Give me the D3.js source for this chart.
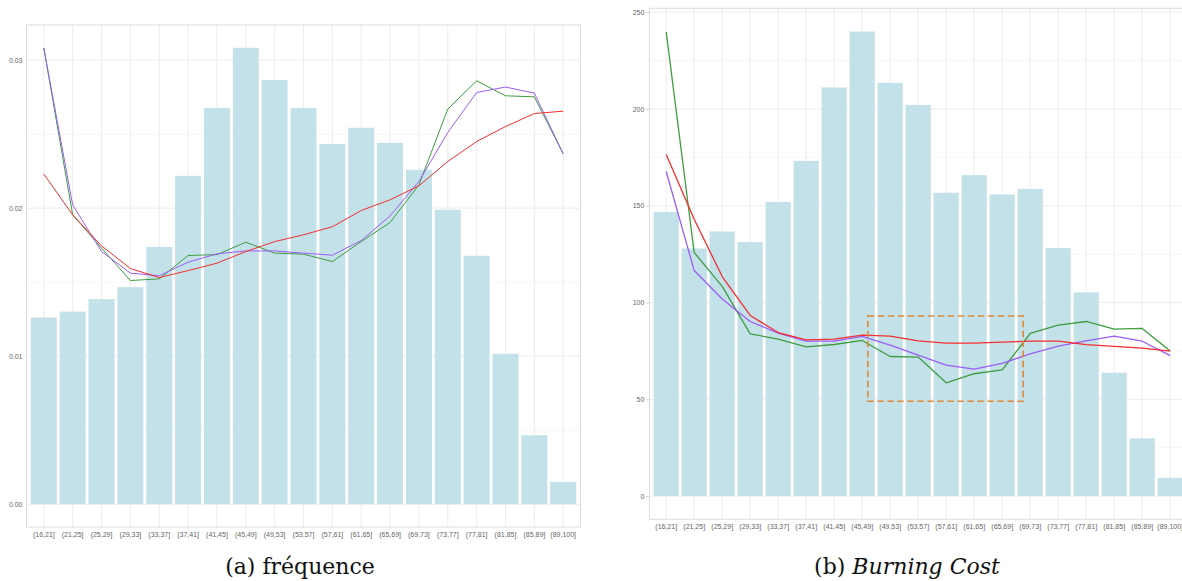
<!DOCTYPE html>
<html>
<head>
<meta charset="utf-8">
<script src="https://cdn.jsdelivr.net/npm/d3@7"></script>
<style>
  html, body { margin: 0; padding: 0; background: #fff; }
  svg { display: block; }
</style>
</head>
<body>
<svg id="fig" width="1182" height="581"></svg>
<script>
// Age bands shared by both panels
const ageBands = ["(16,21]","(21,25]","(25,29]","(29,33]","(33,37]","(37,41]","(41,45]","(45,49]","(49,53]","(53,57]","(57,61]","(61,65]","(65,69]","(69,73]","(73,77]","(77,81]","(81,85]","(85,89]","(89,100]"];

// Panel (a): claim frequency
const freqBars   = [0.01261,0.01301,0.01385,0.01466,0.01738,0.02218,0.02676,0.03083,0.02865,0.02676,0.02434,0.02543,0.02441,0.02259,0.01989,0.01678,0.01016,0.00466,0.00151];
const freqGreen  = [0.03081,0.01955,0.01730,0.01511,0.01522,0.01680,0.01686,0.01770,0.01696,0.01689,0.01639,0.01774,0.01903,0.02157,0.02669,0.02860,0.02759,0.02752,0.02367];
const freqPurple = [0.03081,0.02022,0.01707,0.01561,0.01543,0.01635,0.01691,0.01711,0.01711,0.01696,0.01682,0.01781,0.01948,0.02180,0.02511,0.02781,0.02818,0.02777,0.02367];
const freqRed    = [0.02230,0.01955,0.01745,0.01592,0.01531,0.01578,0.01628,0.01707,0.01774,0.01820,0.01874,0.01984,0.02056,0.02151,0.02315,0.02450,0.02551,0.02639,0.02655];
const freqTicks  = [0, 0.01, 0.02, 0.03];
const freqMinor  = [0.005, 0.015, 0.025];

// Panel (b): burning cost
const bcBars   = [146.8,127.9,136.7,131.2,152.0,173.2,211.1,240.0,213.5,202.1,156.7,165.8,155.8,158.7,128.1,105.2,63.7,29.8,9.45];
const bcGreen  = [239.8,125.8,108.3,83.8,81.1,77.1,78.3,80.4,72.1,71.8,58.5,63.2,65.2,84.0,88.3,90.2,86.3,86.6,74.9];
const bcPurple = [167.7,116.5,101.8,90.2,84.2,80.0,80.0,82.5,78.0,72.8,67.7,65.6,68.5,73.5,77.5,80.2,82.6,80.0,72.6];
const bcRed    = [176.5,143.0,113.4,93.3,84.5,80.7,81.1,83.2,82.6,80.2,79.0,79.0,79.5,80.0,80.0,78.2,77.3,76.4,74.9];
const bcTicks  = [0, 50, 100, 150, 200, 250];
const bcMinor  = [25, 75, 125, 175, 225];
// Highlighted region of panel (b): band positions (1-based) and cost range
const boxPos   = [8.2, 13.75];
const boxCost  = [49, 93];

const colors = { bar: "#c3e1e9", green: "#3f9c3f", purple: "#9d5cf7", red: "#f42f2f", box: "#e0893b" };

const svg = d3.select("#fig");

function drawPanel(cfg) {
  const g = svg.append("g");
  const x = d3.scaleBand().domain(ageBands)
    .range([cfg.left, cfg.right]).paddingInner(0.1).paddingOuter(0.15);
  const allVals = cfg.bars.concat(cfg.lines.flatMap(l => l.values));
  const maxV = d3.max(allVals), pad = maxV * 0.05;
  const y = d3.scaleLinear().domain([-pad, maxV + pad]).range([cfg.bottom, cfg.top]);
  const cx = d => x(d) + x.bandwidth() / 2;

  // clip to the panel area (and the page edge)
  const clipId = "clip-" + cfg.id;
  svg.append("clipPath").attr("id", clipId).append("rect")
    .attr("x", cfg.left).attr("y", cfg.top)
    .attr("width", cfg.right - cfg.left).attr("height", cfg.bottom - cfg.top);
  const inner = g.append("g").attr("clip-path", `url(#${clipId})`);

  // minor and major grid
  inner.selectAll("line.minor").data(cfg.minor).join("line")
    .attr("x1", cfg.left).attr("x2", cfg.right)
    .attr("y1", d => y(d)).attr("y2", d => y(d))
    .attr("stroke", "#f4f4f4").attr("stroke-width", 0.8);
  inner.selectAll("line.majory").data(cfg.ticks).join("line")
    .attr("x1", cfg.left).attr("x2", cfg.right)
    .attr("y1", d => y(d)).attr("y2", d => y(d))
    .attr("stroke", "#ececec").attr("stroke-width", 1);
  inner.selectAll("line.majorx").data(ageBands).join("line")
    .attr("x1", d => cx(d)).attr("x2", d => cx(d))
    .attr("y1", cfg.top).attr("y2", cfg.bottom)
    .attr("stroke", "#ececec").attr("stroke-width", 1);

  // bars
  inner.selectAll("rect.bar").data(cfg.bars).join("rect")
    .attr("x", (d, i) => x(ageBands[i]))
    .attr("width", x.bandwidth())
    .attr("y", d => y(d))
    .attr("height", d => y(0) - y(d))
    .attr("fill", colors.bar);

  // lines
  const line = d3.line().x((d, i) => cx(ageBands[i])).y(d => y(d));
  cfg.lines.forEach(l => {
    inner.append("path").datum(l.values)
      .attr("d", line).attr("fill", "none")
      .attr("stroke", l.color).attr("stroke-width", cfg.lineWidth)
      .attr("stroke-linejoin", "round");
  });

  // highlighted box
  if (cfg.box) {
    const step = x.step();
    const px = p => cx(ageBands[0]) + (p - 1) * step;
    inner.append("rect")
      .attr("x", px(cfg.box.pos[0])).attr("width", px(cfg.box.pos[1]) - px(cfg.box.pos[0]))
      .attr("y", y(cfg.box.cost[1])).attr("height", y(cfg.box.cost[0]) - y(cfg.box.cost[1]))
      .attr("fill", "none").attr("stroke", colors.box)
      .attr("stroke-width", 1.6).attr("stroke-dasharray", "6.5,3.5");
  }

  // panel border
  g.append("rect")
    .attr("x", cfg.left).attr("y", cfg.top)
    .attr("width", cfg.right - cfg.left).attr("height", cfg.bottom - cfg.top)
    .attr("fill", "none").attr("stroke", "#dcdcdc").attr("stroke-width", 1);

  // y axis labels
  const yAxis = d3.axisLeft(y).tickValues(cfg.ticks).tickFormat(cfg.fmt)
    .tickSize(cfg.tickLen).tickPadding(cfg.tickPad);
  const ya = g.append("g").attr("transform", `translate(${cfg.left},0)`).call(yAxis);
  ya.select(".domain").remove();
  ya.selectAll(".tick line").attr("stroke", "#cfcfcf");
  ya.selectAll("text").attr("fill", "#666").attr("font-size", 7)
    .attr("font-family", "'Liberation Sans', Arial, sans-serif");

  // x axis labels
  const xAxis = d3.axisBottom(x).tickSize(0).tickPadding(cfg.xPad);
  const xa = g.append("g").attr("transform", `translate(0,${cfg.bottom})`).call(xAxis);
  xa.select(".domain").remove();
  xa.selectAll("text").attr("fill", "#666").attr("font-size", 7)
    .attr("font-family", "'Liberation Sans', Arial, sans-serif");
}

drawPanel({
  id: "a", left: 26.5, right: 580.5, top: 25, bottom: 527,
  bars: freqBars, ticks: freqTicks, minor: freqMinor, fmt: d3.format(".2f"),
  lines: [
    { values: freqGreen, color: colors.green },
    { values: freqPurple, color: colors.purple },
    { values: freqRed, color: colors.red }
  ],
  lineWidth: 1, tickLen: 0, tickPad: 4, xPad: 5
});

drawPanel({
  id: "b", left: 649.4, right: 649.4 + 19.2 * 28, top: 8.3, bottom: 519.3,
  bars: bcBars, ticks: bcTicks, minor: bcMinor, fmt: d3.format("d"),
  lines: [
    { values: bcGreen, color: colors.green },
    { values: bcPurple, color: colors.purple },
    { values: bcRed, color: colors.red }
  ],
  box: { pos: boxPos, cost: boxCost },
  lineWidth: 1.3, tickLen: 3, tickPad: 2, xPad: 5
});

// sub-figure captions
const capFont = "'DejaVu Serif', 'Liberation Serif', serif";
svg.append("text").attr("x", 300).attr("y", 574).attr("text-anchor", "middle")
  .attr("font-family", capFont).attr("font-size", 22).attr("fill", "#111")
  .text("(a) fréquence");
const capB = svg.append("text").attr("x", 907).attr("y", 574).attr("text-anchor", "middle")
  .attr("font-family", capFont).attr("font-size", 22).attr("fill", "#111");
capB.append("tspan").text("(b) ");
capB.append("tspan").attr("font-style", "italic").text("Burning Cost");
</script>
</body>
</html>
